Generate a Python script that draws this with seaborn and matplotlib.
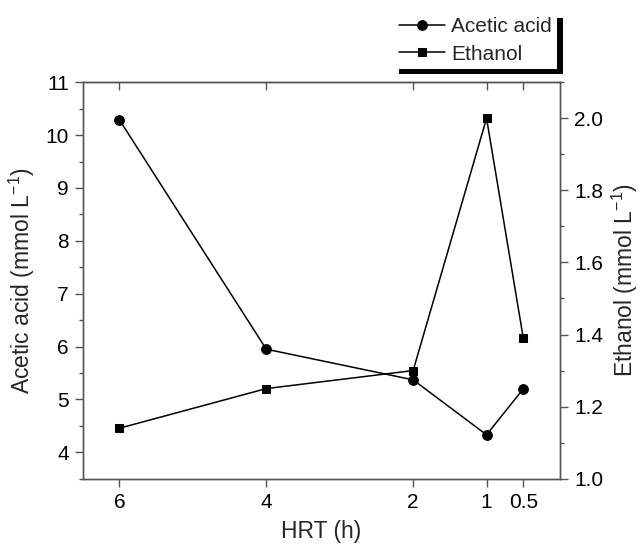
import numpy as np
import pandas as pd
import seaborn as sns
import matplotlib.pyplot as plt
from matplotlib.ticker import MultipleLocator

hrt = [6, 4, 2, 1, 0.5]
acetic = [10.29, 5.95, 5.37, 4.33, 5.20]
ethanol = [1.14, 1.25, 1.30, 2.00, 1.39]

df = pd.DataFrame({'HRT': hrt, 'Acetic acid': acetic, 'Ethanol': ethanol})

sns.set_style('ticks')
plt.rcParams['font.family'] = ['Liberation Sans', 'DejaVu Sans']
plt.rcParams['mathtext.fontset'] = 'custom'
plt.rcParams['mathtext.rm'] = 'Liberation Sans'
plt.rcParams['mathtext.it'] = 'Liberation Sans'

spine_c = '#555555'

fig = plt.figure(figsize=(6.4, 5.46), dpi=100)
ax = fig.add_axes([0.1292, 0.1233, 0.875 - 0.1292, 0.8493 - 0.1233])
ax2 = ax.twinx()

sns.lineplot(data=df, x='HRT', y='Acetic acid', ax=ax, color='k', marker='o',
             markersize=7, linewidth=1.1, markeredgecolor='k', label='Acetic acid',
             legend=False)
sns.lineplot(data=df, x='HRT', y='Ethanol', ax=ax2, color='k', marker='s',
             markersize=6, linewidth=1.1, markeredgecolor='k', label='Ethanol',
             legend=False)

ax.set_xlim(6.5, 0)
ax.set_ylim(3.5, 11)
ax2.set_ylim(1.0, 2.1)

ax.set_xticks(hrt)
ax.set_xticklabels(['6', '4', '2', '1', '0.5'])
ax.set_yticks(range(4, 12))
ax.yaxis.set_minor_locator(MultipleLocator(0.5))
ax2.set_yticks([1.0, 1.2, 1.4, 1.6, 1.8, 2.0])
ax2.set_yticklabels(['1.0', '1.2', '1.4', '1.6', '1.8', '2.0'])
ax2.yaxis.set_minor_locator(MultipleLocator(0.1))

for a in (ax, ax2):
    for s in a.spines.values():
        s.set_color(spine_c)
        s.set_linewidth(1.0)
        s.set_visible(True)

ax.tick_params(axis='both', which='major', direction='out', length=6, width=1,
               color=spine_c, labelsize=15, labelcolor='k', pad=4)
ax.tick_params(axis='y', which='minor', direction='out', length=3, width=1, color=spine_c)
ax2.tick_params(axis='y', which='major', direction='out', length=6, width=1,
                color=spine_c, labelsize=15, labelcolor='k', pad=4)
ax2.tick_params(axis='y', which='minor', direction='out', length=3, width=1, color=spine_c)

# inward ticks on the top spine
ax_top = ax.secondary_xaxis('top')
ax_top.set_xticks(hrt)
ax_top.tick_params(direction='in', length=6, width=1, color=spine_c, labeltop=False)
ax_top.spines['top'].set_color(spine_c)
ax.tick_params(axis='x', top=False)

ax.set_xlabel('HRT (h)', fontsize=16.5, labelpad=6)
ax.set_ylabel('Acetic acid (mmol L$^{-1}$)', fontsize=16.5, labelpad=6)
ax2.set_ylabel('Ethanol (mmol L$^{-1}$)', fontsize=16.5, labelpad=5)

h1, l1 = ax.get_legend_handles_labels()
h2, l2 = ax2.get_legend_handles_labels()
leg = fig.legend(h1 + h2, l1 + l2, loc='upper right',
                 bbox_to_anchor=(557 / 640, 1 - 12 / 546), fontsize=15,
                 frameon=True, fancybox=False, handlelength=2.2,
                 handletextpad=0.3, borderpad=0.25, labelspacing=0.4,
                 borderaxespad=0,
                 shadow={'ox': 4, 'oy': -4, 'color': 'k', 'alpha': 1})
leg.get_frame().set_edgecolor('white')
leg.get_frame().set_facecolor('white')
leg.get_frame().set_linewidth(0)

fig.savefig('out.png', dpi=100)
